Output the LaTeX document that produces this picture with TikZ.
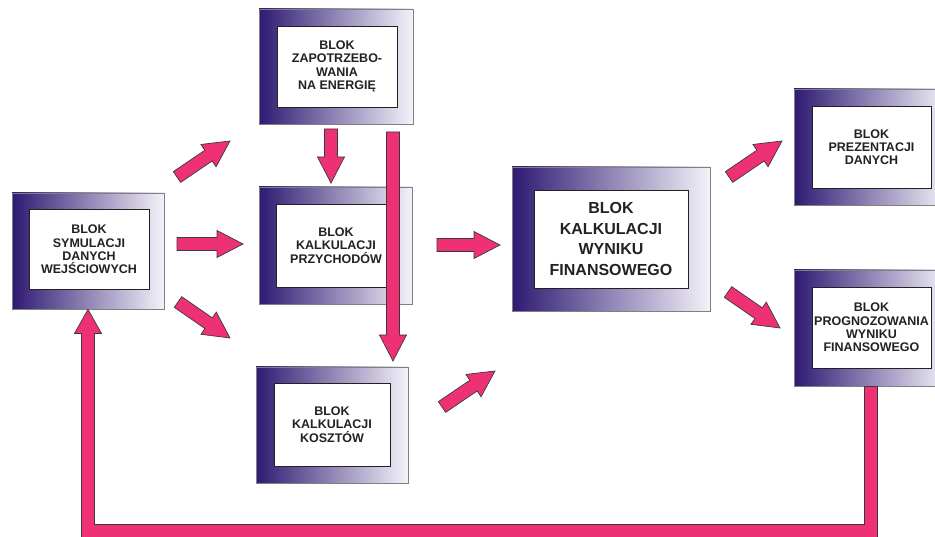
\documentclass[tikz,border=0pt]{standalone}
\usepackage{fontspec}
\setmainfont{Liberation Sans}
\usetikzlibrary{calc}
\definecolor{blokdark}{HTML}{2E1A72}
\definecolor{bloklight}{HTML}{F4F2F9}
\definecolor{frameline}{HTML}{808080}
\definecolor{arrowpink}{HTML}{EE3174}
\definecolor{arrowline}{HTML}{3A3A3A}
\definecolor{textink}{HTML}{222222}

% fat block arrow from tail (#1) to tip (#2)
\newcommand{\fatarrow}[2]{%
  \filldraw[blockarrow]
    ($(#1)!6.5pt!90:(#2)$)
    -- ($(#2)!26pt!(#1)!6.5pt!-90:(#1)$)
    -- ($(#2)!26pt!(#1)!13.5pt!-90:(#1)$)
    -- (#2)
    -- ($(#2)!26pt!(#1)!13.5pt!90:(#1)$)
    -- ($(#2)!26pt!(#1)!6.5pt!90:(#1)$)
    -- ($(#1)!6.5pt!-90:(#2)$) -- cycle;}

\begin{document}
\begin{tikzpicture}[x=1pt,y=-1pt,
  frame/.style={draw=frameline,line width=0.9pt,left color=blokdark,
    right color=bloklight,inner sep=0pt},
  inbox/.style={draw=textink,line width=0.8pt,fill=white,inner sep=0pt,
    align=center,text=textink,font=\bfseries\fontsize{12.5}{13.3}\selectfont},
  bigbox/.style={inbox,font=\bfseries\fontsize{16}{20.5}\selectfont},
  blockarrow/.style={fill=arrowpink,draw=arrowline,line width=0.7pt,
    line join=miter}
]
\useasboundingbox (0,0) rectangle (935,537);
\clip (0,0) rectangle (935,537);

% blocks
\node[frame,minimum width=152pt,minimum height=116pt] (sym) at (88,251) {};
\node[inbox,minimum width=120pt,minimum height=80pt] (symtxt) at (89,249.5)
  {BLOK\\SYMULACJI\\DANYCH\\WEJŚCIOWYCH};

\node[frame,minimum width=154pt,minimum height=115pt] (zap) at (336,66.5) {};
\node[inbox,minimum width=120pt,minimum height=81pt] (zaptxt) at (337,66.5)
  {BLOK\\ZAPOTRZEBO-\\WANIA\\NA ENERGIĘ};

\node[frame,minimum width=153pt,minimum height=117pt] (przych) at (335.5,245.5) {};
\node[inbox,minimum width=120pt,minimum height=83pt] (przychtxt) at (336,245.5)
  {BLOK\\KALKULACJI\\PRZYCHODÓW};

\node[frame,minimum width=152pt,minimum height=116pt] (koszt) at (332,425) {};
\node[inbox,minimum width=116pt,minimum height=83pt] (koszttxt) at (332,424.5)
  {BLOK\\KALKULACJI\\KOSZTÓW};

\node[frame,minimum width=198pt,minimum height=144pt] (wynik) at (611,239) {};
\node[bigbox,minimum width=154pt,minimum height=98pt] (wyniktxt) at (611,239)
  {BLOK\\KALKULACJI\\WYNIKU\\FINANSOWEGO};

\node[frame,minimum width=154pt,minimum height=116pt] (prez) at (871,147) {};
\node[inbox,minimum width=119pt,minimum height=82pt] (preztxt) at (871.5,147)
  {BLOK\\PREZENTACJI\\DANYCH};

\node[frame,minimum width=154pt,minimum height=116pt] (prog) at (871,328) {};
\node[inbox,minimum width=119pt,minimum height=81pt] (progtxt) at (871.5,327.5)
  {BLOK\\PROGNOZOWANIA\\WYNIKU\\FINANSOWEGO};

% arrow ends
\coordinate (symzap0) at (177,177);   \coordinate (symzap1) at (230,141);
\coordinate (sympr0) at (177,244);    \coordinate (sympr1) at (243,244);
\coordinate (symko0) at (178,302);    \coordinate (symko1) at (230,338);
\coordinate (zappr0) at (331,129);    \coordinate (zappr1) at (331,183);
\coordinate (zapko0) at (393,132);    \coordinate (zapko1) at (393,361);
\coordinate (prwy0) at (437,245);     \coordinate (prwy1) at (500,245);
\coordinate (kowy0) at (442,407);     \coordinate (kowy1) at (495,371);
\coordinate (wypre0) at (729,177);    \coordinate (wypre1) at (782,141);
\coordinate (wypro0) at (728,292);    \coordinate (wypro1) at (780,328);

\foreach \a/\b in {symzap0/symzap1,sympr0/sympr1,symko0/symko1,
  zappr0/zappr1,zapko0/zapko1,prwy0/prwy1,kowy0/kowy1,
  wypre0/wypre1,wypro0/wypro1}
  \fatarrow{\a}{\b};

% feedback loop
\coordinate (fbR) at (prog.south |- 0,531);
\coordinate (fbL) at (sym.south |- 0,531);
\filldraw[blockarrow]
  ([shift={(6.5,0)}]prog.south) -- ([shift={(6.5,6.5)}]fbR)
  -- ([shift={(-6.5,6.5)}]fbL) -- ([shift={(-6.5,24)}]sym.south)
  -- ([shift={(-13.5,24)}]sym.south) -- (sym.south)
  -- ([shift={(13.5,24)}]sym.south) -- ([shift={(6.5,24)}]sym.south)
  -- ([shift={(6.5,-6.5)}]fbL) -- ([shift={(-6.5,-6.5)}]fbR)
  -- ([shift={(-6.5,0)}]prog.south) -- cycle;
\end{tikzpicture}
\end{document}
